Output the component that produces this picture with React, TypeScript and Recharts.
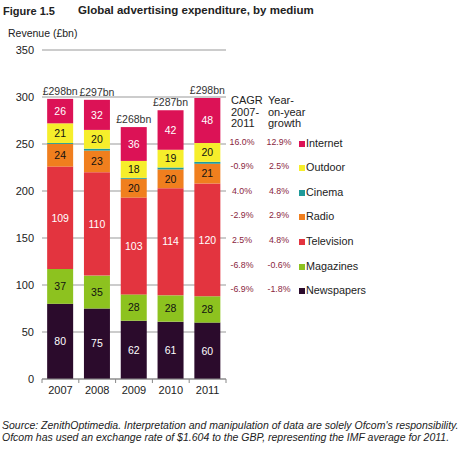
import React from "react";
import { Bar, BarChart, CartesianGrid, LabelList, XAxis, YAxis } from "recharts";

const years = ["2007", "2008", "2009", "2010", "2011"];
const newspapers = [80, 75, 62, 61, 60];
const magazines = [37, 35, 28, 28, 28];
const television = [109, 110, 103, 114, 120];
const radio = [24, 23, 20, 20, 21];
const cinema = [1, 2, 1, 2, 2];
const outdoor = [21, 20, 18, 19, 20];
const internet = [26, 32, 36, 42, 48];
const totals = [298, 297, 268, 287, 298];
const yTicks = [0, 50, 100, 150, 200, 250, 300, 350];

// legend table, top row first
const legendNames = ["Internet", "Outdoor", "Cinema", "Radio", "Television", "Magazines", "Newspapers"];
const cagr = ["16.0%", "-0.9%", "4.0%", "-2.9%", "2.5%", "-6.8%", "-6.9%"];
const yoy = ["12.9%", "2.5%", "4.8%", "2.9%", "4.8%", "-0.6%", "-1.8%"];

const COLORS: Record<string, string> = {
  Newspapers: "#2b0b2c",
  Magazines: "#8dc21f",
  Television: "#e3343f",
  Radio: "#f07f1e",
  Cinema: "#1f9a9a",
  Outdoor: "#f6ee2b",
  Internet: "#dc1256",
};

const data = years.map((year, i) => ({
  year,
  Newspapers: newspapers[i],
  Magazines: magazines[i],
  Television: television[i],
  Radio: radio[i],
  Cinema: cinema[i],
  Outdoor: outdoor[i],
  Internet: internet[i],
  total: totals[i],
}));

const series: { key: string; label: string | null }[] = [
  { key: "Newspapers", label: "#fff" },
  { key: "Magazines", label: "#111" },
  { key: "Television", label: "#fff" },
  { key: "Radio", label: "#111" },
  { key: "Cinema", label: null },
  { key: "Outdoor", label: "#111" },
  { key: "Internet", label: "#fff" },
];

const FONT = "Arial, 'Liberation Sans', sans-serif";

function YearTick(props: any) {
  const { x, y, payload, index } = props;
  const half = payload?.offset ?? 18.4;
  return (
    <g>
      <line x1={x - half} x2={x - half} y1={y - 8} y2={y - 4} stroke="#888" />
      {index === years.length - 1 && (
        <line x1={x + half} x2={x + half} y1={y - 8} y2={y - 4} stroke="#888" />
      )}
      <text x={x} y={y + 7} textAnchor="middle" fontSize={11} fill="#222" fontFamily={FONT}>
        {payload.value}
      </text>
    </g>
  );
}

export default function App() {
  const rowTop = 143.5;
  const rowStep = 24.6;
  return (
    <div
      style={{
        position: "absolute",
        left: 0,
        top: 0,
        width: 460,
        height: 451,
        background: "#fff",
        fontFamily: FONT,
        overflow: "hidden",
      }}
    >
      <BarChart
        width={460}
        height={451}
        data={data}
        margin={{ top: 50, right: 234, bottom: 0, left: 0 }}
        barCategoryGap="14%"
      >
        <CartesianGrid horizontal vertical={false} stroke="#999" />
        <XAxis
          dataKey="year"
          axisLine={{ stroke: "#888" }}
          tickLine={false}
          tick={<YearTick />}
          height={72}
          interval={0}
        />
        <YAxis
          domain={[0, 350]}
          ticks={yTicks}
          width={42}
          axisLine={false}
          tickLine={false}
          tick={{ fontSize: 11, fill: "#222", fontFamily: FONT }}
        />
        {series.map((s) => (
          <Bar
            key={s.key}
            dataKey={s.key}
            stackId="a"
            fill={COLORS[s.key]}
            isAnimationActive={false}
          >
            {s.label && (
              <LabelList
                dataKey={s.key}
                position="center"
                fill={s.label}
                fontSize={10.5}
                fontFamily={FONT}
              />
            )}
            {s.key === "Internet" && (
              <LabelList
                dataKey="total"
                position="top"
                offset={4}
                fill="#333"
                fontSize={10.5}
                fontFamily={FONT}
                formatter={(v: any) => `£${v}bn`}
              />
            )}
          </Bar>
        ))}
      </BarChart>

      <div style={{ position: "absolute", left: 3, top: 5, fontSize: 11, fontWeight: "bold", color: "#222" }}>
        Figure 1.5
      </div>
      <div style={{ position: "absolute", left: 78, top: 4, fontSize: 11.5, fontWeight: "bold", color: "#222" }}>
        Global advertising expenditure, by medium
      </div>
      <div style={{ position: "absolute", left: 8, top: 27, fontSize: 10.5, color: "#222" }}>
        Revenue (£bn)
      </div>

      <div style={{ position: "absolute", left: 231, top: 95, fontSize: 11, lineHeight: "11.5px", color: "#222" }}>
        CAGR
        <br />
        2007-
        <br />
        2011
      </div>
      <div style={{ position: "absolute", left: 268, top: 95, fontSize: 11, lineHeight: "11.5px", color: "#222" }}>
        Year-
        <br />
        on-year
        <br />
        growth
      </div>

      {legendNames.map((name, i) => (
        <div key={name}>
          <div
            style={{
              position: "absolute",
              left: 226,
              width: 32,
              top: rowTop + i * rowStep - 7,
              fontSize: 8.8,
              textAlign: "center",
              color: "#8a2540",
            }}
          >
            {cagr[i]}
          </div>
          <div
            style={{
              position: "absolute",
              left: 263,
              width: 32,
              top: rowTop + i * rowStep - 7,
              fontSize: 8.8,
              textAlign: "center",
              color: "#8a2540",
            }}
          >
            {yoy[i]}
          </div>
          <div
            style={{
              position: "absolute",
              left: 299,
              top: rowTop + i * rowStep - 3,
              width: 6,
              height: 6,
              background: COLORS[name],
            }}
          />
          <div
            style={{
              position: "absolute",
              left: 306,
              top: rowTop + i * rowStep - 7,
              fontSize: 10.8,
              color: "#222",
            }}
          >
            {name}
          </div>
        </div>
      ))}

      <div
        style={{
          position: "absolute",
          left: 2,
          top: 420,
          fontSize: 10.5,
          lineHeight: "11.6px",
          fontStyle: "italic",
          color: "#222",
          whiteSpace: "nowrap",
        }}
      >
        Source: ZenithOptimedia. Interpretation and manipulation of data are solely Ofcom's responsibility.
        <br />
        Ofcom has used an exchange rate of $1.604 to the GBP, representing the IMF average for 2011.
      </div>
    </div>
  );
}
